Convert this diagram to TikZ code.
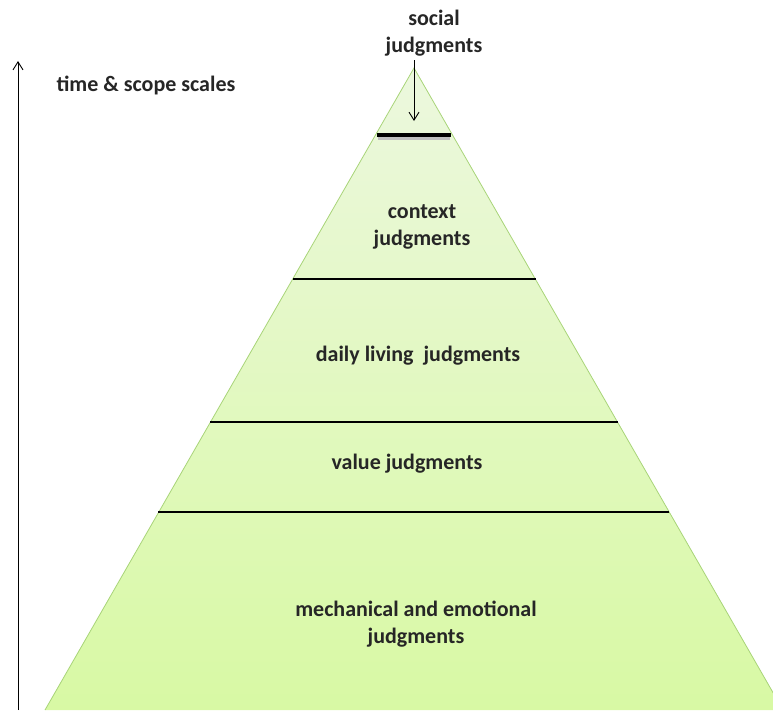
\documentclass[tikz,border=0pt]{standalone}
\usepackage{fontspec}
\setmainfont{Carlito}
\usetikzlibrary{arrows.meta}
\definecolor{pyrtop}{RGB}{236,248,222}
\definecolor{pyrbot}{RGB}{216,249,164}
\definecolor{pyredge}{RGB}{168,212,120}
\begin{document}
\begin{tikzpicture}[x=1pt,y=-1pt,
  lbl/.style={font=\bfseries\fontsize{22}{27}\selectfont, align=center, text=black!85},
  divider/.style={black, line width=1.4pt},
  tip/.style={-{Straight Barb[length=8pt,width=10pt]}, line width=0.9pt}]
\useasboundingbox (0,0) rectangle (773,710);
% pyramid body
\coordinate (apex) at (414,68);
\coordinate (bl) at (45,710);
\coordinate (br) at (783,710);
\shade[top color=pyrtop, bottom color=pyrbot] (apex) -- (bl) -- (br) -- cycle;
\draw[pyredge, line width=0.8pt] (bl) -- (apex) -- (br);
% layer dividers
\draw[divider] (293,279) -- (536,279);
\draw[divider] (210,422) -- (618,422);
\draw[divider] (158,512) -- (669,512);
% cap at the top
\draw[black!25, line width=3pt] (378,138) -- (450,138);
\draw[black, line width=3.5pt] (377,135) -- (451,135);
% labels
\node[lbl] (soc) at (434,33) {social\\judgments};
\node[lbl] (ctx) at (422,227) {context\\judgments};
\node[lbl] (day) at (418,356) {daily living\ \ judgments};
\node[lbl] (val) at (407,464) {value judgments};
\node[lbl] (mec) at (416,624) {mechanical and emotional\\judgments};
\node[lbl, anchor=west] (tss) at (53,85) {time \& scope scales};
% arrows
\coordinate (capt) at (414,121);
\coordinate (capin) at (414,60);
\draw[tip] (capin) -- (capt);
\coordinate (axb) at (18,710);
\coordinate (axt) at (18,61);
\draw[tip] (axb) -- (axt);
\end{tikzpicture}
\end{document}
